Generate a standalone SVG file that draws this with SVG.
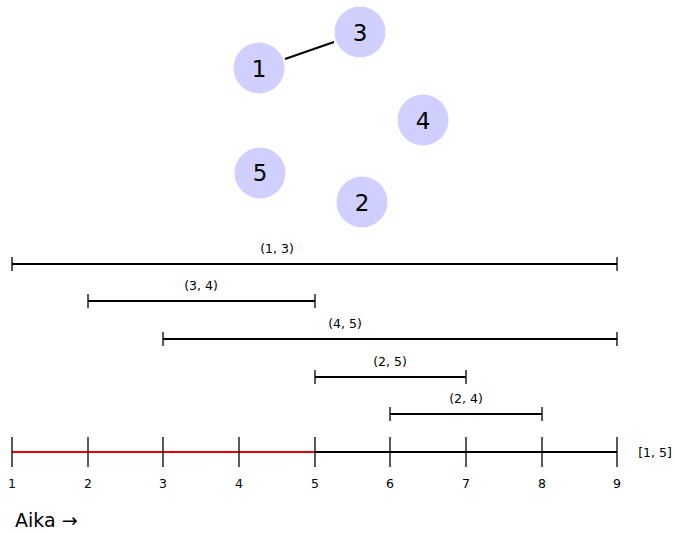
<svg xmlns="http://www.w3.org/2000/svg" width="674" height="533" viewBox="0 0 674 533">
<style>
.node circle{fill:#d0d0ff;stroke:none}
.node text{font-family:"DejaVu Sans","Liberation Sans",sans-serif;font-size:23px;fill:#000;text-anchor:middle;dominant-baseline:central}
.edge{stroke:#000;stroke-width:2;fill:none}
.iv{stroke:#000;stroke-width:2;fill:none}
.tk{stroke:#000;stroke-width:1.3;fill:none}
.lbl{font-family:"DejaVu Sans","Liberation Sans",sans-serif;font-size:12.5px;fill:#000;text-anchor:middle}
</style>
<rect width="674" height="533" fill="#fff"/>
<g id="connectors">
<line class="edge" x1="285" y1="59" x2="334" y2="42"/>
</g>
<g id="node1" class="node"><circle cx="259" cy="68" r="25.5"/><text x="259" y="69">1</text></g>
<g id="node3" class="node"><circle cx="360" cy="32" r="25.5"/><text x="360" y="33">3</text></g>
<g id="node4" class="node"><circle cx="423" cy="120" r="25.5"/><text x="423" y="121">4</text></g>
<g id="node5" class="node"><circle cx="260" cy="173" r="25.5"/><text x="260" y="173">5</text></g>
<g id="node2" class="node"><circle cx="362" cy="202" r="25.5"/><text x="362" y="203">2</text></g>
<g id="intervals">
<line class="iv" x1="12" y1="264" x2="617" y2="264"/><line class="tk" x1="12" y1="257" x2="12" y2="271"/><line class="tk" x1="617" y1="257" x2="617" y2="271"/>
<text class="lbl" x="277" y="253">(1, 3)</text>
<line class="iv" x1="88" y1="301" x2="315" y2="301"/><line class="tk" x1="88" y1="294" x2="88" y2="308"/><line class="tk" x1="315" y1="294" x2="315" y2="308"/>
<text class="lbl" x="201" y="290">(3, 4)</text>
<line class="iv" x1="163" y1="339" x2="617" y2="339"/><line class="tk" x1="163" y1="332" x2="163" y2="346"/><line class="tk" x1="617" y1="332" x2="617" y2="346"/>
<text class="lbl" x="345" y="328">(4, 5)</text>
<line class="iv" x1="315" y1="377" x2="466" y2="377"/><line class="tk" x1="315" y1="370" x2="315" y2="384"/><line class="tk" x1="466" y1="370" x2="466" y2="384"/>
<text class="lbl" x="390" y="366">(2, 5)</text>
<line class="iv" x1="390" y1="414" x2="542" y2="414"/><line class="tk" x1="390" y1="407" x2="390" y2="421"/><line class="tk" x1="542" y1="407" x2="542" y2="421"/>
<text class="lbl" x="466" y="403">(2, 4)</text>
</g>
<g id="axis">
<line x1="315" y1="452" x2="617" y2="452" stroke="#000" stroke-width="2"/>
<line x1="12" y1="452" x2="315" y2="452" stroke="#e00" stroke-width="2"/>
<g class="tk">
<line x1="12" y1="437" x2="12" y2="467"/><line x1="88" y1="437" x2="88" y2="467"/><line x1="163" y1="437" x2="163" y2="467"/><line x1="239" y1="437" x2="239" y2="467"/><line x1="315" y1="437" x2="315" y2="467"/><line x1="390" y1="437" x2="390" y2="467"/><line x1="466" y1="437" x2="466" y2="467"/><line x1="542" y1="437" x2="542" y2="467"/><line x1="617" y1="437" x2="617" y2="467"/>
</g>
<text class="lbl" x="12" y="488">1</text><text class="lbl" x="88" y="488">2</text><text class="lbl" x="163" y="488">3</text><text class="lbl" x="239" y="488">4</text><text class="lbl" x="315" y="488">5</text><text class="lbl" x="390" y="488">6</text><text class="lbl" x="466" y="488">7</text><text class="lbl" x="542" y="488">8</text><text class="lbl" x="617" y="488">9</text>
<text class="lbl" x="655" y="457">[1, 5]</text>
<text x="15" y="527" font-family="DejaVu Sans, Liberation Sans, sans-serif" font-size="19" fill="#000">Aika →</text>
</g>
</svg>
